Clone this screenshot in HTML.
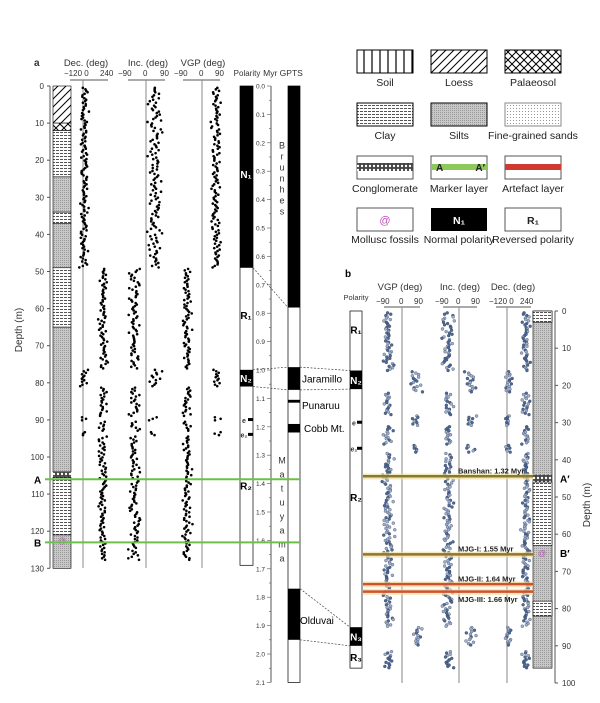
<!DOCTYPE html>
<html><head><meta charset="utf-8">
<style>
html,body{margin:0;padding:0;background:#fff;}
svg{display:block;font-family:"Liberation Sans",sans-serif;}
</style></head><body>
<svg id="s" width="600" height="703" viewBox="0 0 600 703" xmlns="http://www.w3.org/2000/svg">
<defs>
<pattern id="soil" width="8" height="10" patternUnits="userSpaceOnUse"><rect width="8" height="10" fill="#fff"/><line x1="4" y1="0" x2="4" y2="10" stroke="#000" stroke-width="1.2"/></pattern>
<pattern id="loess" width="8" height="8" patternUnits="userSpaceOnUse"><rect width="8" height="8" fill="#fff"/><path d="M0,8 L8,0 M-2,2 L2,-2 M6,10 L10,6" stroke="#000" stroke-width="1"/></pattern>
<pattern id="pal" width="8" height="8" patternUnits="userSpaceOnUse"><rect width="8" height="8" fill="#fff"/><path d="M0,8 L8,0 M0,0 L8,8" stroke="#000" stroke-width="1"/></pattern>
<pattern id="clay" width="4" height="3" patternUnits="userSpaceOnUse"><rect width="4" height="3" fill="#fff"/><rect width="3" height="1" fill="#555"/></pattern>
<pattern id="silt" width="2" height="2" patternUnits="userSpaceOnUse"><rect width="2" height="2" fill="#c8c8c8"/><rect width="1" height="1" fill="#999"/></pattern>
<pattern id="sand" width="3" height="3" patternUnits="userSpaceOnUse"><rect width="3" height="3" fill="#fff"/><rect width="1" height="1" fill="#999"/></pattern>
<pattern id="cong" width="4" height="4" patternUnits="userSpaceOnUse"><rect width="4" height="4" fill="#444"/><circle cx="2" cy="2" r="1.2" fill="#fff"/></pattern>
</defs>

<g font-size="10.5" fill="#222" text-anchor="middle">
<rect x="357" y="50" width="56" height="23" fill="url(#soil)" stroke="#000"/><text x="385" y="86">Soil</text>
<rect x="431" y="50" width="56" height="23" fill="url(#loess)" stroke="#000"/><text x="459" y="86">Loess</text>
<rect x="505" y="50" width="56" height="23" fill="url(#pal)" stroke="#000"/><text x="533" y="86">Palaeosol</text>
<rect x="357" y="103" width="56" height="23" fill="url(#clay)" stroke="#000"/><text x="385" y="139">Clay</text>
<rect x="431" y="103" width="56" height="23" fill="url(#silt)" stroke="#000"/><text x="459" y="139">Silts</text>
<rect x="505" y="103" width="56" height="23" fill="url(#sand)" stroke="#888"/><text x="533" y="139">Fine-grained sands</text>
<rect x="357" y="156" width="56" height="23" fill="#fff" stroke="#555"/><rect x="357" y="163" width="56" height="8" fill="url(#cong)"/><text x="385" y="192">Conglomerate</text>
<rect x="431" y="156" width="56" height="23" fill="#fff" stroke="#555"/><rect x="431" y="164" width="56" height="6" fill="#8cc85a"/><text x="436" y="171" font-weight="bold" text-anchor="start" font-size="10">A</text><text x="485" y="171" font-weight="bold" text-anchor="end" font-size="10">A′</text><text x="459" y="192">Marker layer</text>
<rect x="505" y="156" width="56" height="23" fill="#fff" stroke="#555"/><rect x="505" y="164" width="56" height="6" fill="#d03a30"/><text x="533" y="192">Artefact layer</text>
<rect x="357" y="208" width="56" height="23" fill="#fff" stroke="#555"/><text x="385" y="224" fill="#c050c0" font-size="11">@</text><text x="385" y="243">Mollusc fossils</text>
<rect x="431" y="208" width="56" height="23" fill="#000"/><text x="459" y="224" fill="#fff" font-weight="bold">N₁</text><text x="459" y="243">Normal polarity</text>
<rect x="505" y="208" width="56" height="23" fill="#fff" stroke="#555"/><text x="533" y="224" font-weight="bold">R₁</text><text x="533" y="243">Reversed polarity</text>
</g>

<g font-size="9" fill="#333">
<text x="34" y="66" font-weight="bold" font-size="10">a</text>
<text x="86" y="66" text-anchor="middle" font-size="9.5">Dec. (deg)</text>
<text x="148" y="66" text-anchor="middle" font-size="9.5">Inc. (deg)</text>
<text x="203" y="66" text-anchor="middle" font-size="9.5">VGP (deg)</text>
<text x="247" y="76" text-anchor="middle" font-size="8">Polarity</text>
<text x="283" y="76" text-anchor="middle" font-size="8.5">Myr GPTS</text>
<text x="64" y="76" font-size="8">−120 0</text><text x="100" y="76" font-size="8">240</text>
<text x="118" y="76" font-size="8">−90</text><text x="143" y="76" font-size="8">0</text><text x="160" y="76" font-size="8">90</text>
<text x="174" y="76" font-size="8">−90</text><text x="199" y="76" font-size="8">0</text><text x="215" y="76" font-size="8">90</text>
<text x="22" y="330" font-size="10" transform="rotate(-90 22 330)" text-anchor="middle">Depth (m)</text>
</g>
</svg>
<script>
var S=document.getElementById('s'),NS='http://www.w3.org/2000/svg';
function el(t,a,p){var e=document.createElementNS(NS,t);for(var k in a)e.setAttribute(k,a[k]);(p||S).appendChild(e);return e;}
function tx(x,y,s,a){var e=el('text',Object.assign({x:x,y:y,'font-size':8,fill:'#333'},a||{}));e.textContent=s;return e;}
var seed=7;function r(){seed=(seed*16807)%2147483647;return seed/2147483647;}
function g(){return (r()+r()+r()-1.5);}
var y0=86,k=3.71;function ya(d){return y0+d*k;}
el('line',{x1:50,y1:ya(0),x2:50,y2:ya(130),stroke:'#555'});
for(var d=0;d<=130;d+=10){el('line',{x1:47,y1:ya(d),x2:50,y2:ya(d),stroke:'#555'});tx(44,ya(d)+3,d,{'text-anchor':'end'});}
function L(a,b,f){el('rect',{x:53,y:ya(a),width:18,height:ya(b)-ya(a),fill:f,stroke:'#000','stroke-width':.6});}
L(0,10,'url(#loess)');L(10,12,'url(#pal)');L(12,24.5,'url(#clay)');L(24.5,34,'url(#silt)');L(34,37,'url(#clay)');L(37,49,'url(#silt)');L(49,65,'url(#clay)');L(65,104,'url(#silt)');
el('rect',{x:53,y:ya(104),width:18,height:ya(105.5)-ya(104),fill:'url(#cong)'});
L(105.5,121,'url(#clay)');L(121,130,'url(#silt)');
tx(62,ya(122.5)+3,'@',{fill:'#c050c0','text-anchor':'middle'});
[[70,108],[128,165],[183,220]].forEach(function(a){el('line',{x1:a[0],y1:80,x2:a[1],y2:80,stroke:'#555'});});
[83,146,202].forEach(function(x){el('line',{x1:x,y1:80,x2:x,y2:568,stroke:'#888'});});
function pol(d){return (d<49||(d>=76.5&&d<81)||(d>89&&d<90.5)||(d>93&&d<94.5))?1:0;}
for(var d=0.5;d<128;d+=0.4){var p=pol(d),y=ya(d);
 el('circle',{cx:(p?84:103)+g()*4,cy:y,r:1.3,fill:'#000'});
 el('circle',{cx:(p?155:134)+g()*6,cy:y,r:1.3,fill:'#000'});
 el('circle',{cx:(p?216:187)+g()*4,cy:y,r:1.3,fill:'#000'});}
el('rect',{x:240,y:ya(0),width:13,height:ya(130)-ya(0)-3,fill:'#fff',stroke:'#000','stroke-width':.7});
el('rect',{x:240,y:ya(0),width:13,height:ya(49)-ya(0),fill:'#000'});
el('rect',{x:240,y:ya(76.5),width:13,height:ya(81)-ya(76.5),fill:'#000'});
el('rect',{x:248,y:ya(89.5),width:5,height:3,fill:'#000'});el('rect',{x:248,y:ya(93.5),width:5,height:3,fill:'#000'});
tx(246,ya(24)+3,'N₁',{fill:'#fff','font-weight':'bold','font-size':10,'text-anchor':'middle'});
tx(246,ya(62)+3,'R₁',{fill:'#000','font-weight':'bold','font-size':10,'text-anchor':'middle'});
tx(246,ya(79)+3,'N₂',{fill:'#fff','font-weight':'bold','font-size':10,'text-anchor':'middle'});
tx(244,ya(90)+3,'e',{'font-weight':'bold','font-size':7,'text-anchor':'middle'});tx(244,ya(94)+3,'e₂',{'font-weight':'bold','font-size':7,'text-anchor':'middle'});
tx(246,ya(108)+3,'R₂',{fill:'#000','font-weight':'bold','font-size':10,'text-anchor':'middle'});
var m0=86,mk=284;function ym(t){return m0+t*mk;}
el('line',{x1:271,y1:ym(0),x2:271,y2:ym(2.1),stroke:'#555'});
for(var t=0;t<=2.1001;t+=0.05){var mj=Math.abs(t*10-Math.round(t*10))<.01;el('line',{x1:mj?267:269,y1:ym(t),x2:271,y2:ym(t),stroke:'#555','stroke-width':.6});if(mj)tx(265,ym(t)+2.5,t.toFixed(1),{'text-anchor':'end','font-size':6.5});}
el('rect',{x:288,y:ym(0),width:12,height:ym(2.1)-ym(0),fill:'#fff',stroke:'#000','stroke-width':.7});
[[0,.78],[.99,1.07],[1.105,1.115],[1.19,1.22],[1.77,1.95]].forEach(function(b){el('rect',{x:288,y:ym(b[0]),width:12,height:ym(b[1])-ym(b[0]),fill:'#000'});});
'Brunhes'.split('').forEach(function(c,i){tx(282,ym(0.22)+i*11,c,{'text-anchor':'middle','font-size':9});});
'Matuyama'.split('').forEach(function(c,i){tx(282,ym(1.33)+i*14,c,{'text-anchor':'middle','font-size':9});});
[[ya(49),ym(.78)],[ya(76.5),ym(.99)],[ya(81),ym(1.07)]].forEach(function(c){el('line',{x1:253,y1:c[0],x2:288,y2:c[1],stroke:'#444','stroke-dasharray':'2,1.5','stroke-width':.7});});
el('line',{x1:45,y1:ya(106),x2:300,y2:ya(106),stroke:'#6cc04a','stroke-width':2});
el('line',{x1:45,y1:ya(123),x2:300,y2:ya(123),stroke:'#6cc04a','stroke-width':2});
tx(34,ya(106)+4,'A',{'font-weight':'bold','font-size':10,fill:'#000'});tx(34,ya(123)+4,'B',{'font-weight':'bold','font-size':10,fill:'#000'});
var b0=311,bk=3.72;function yb(d){return b0+d*bk;}
tx(345,277,'b',{'font-weight':'bold','font-size':10,fill:'#000'});
tx(356,300,'Polarity',{'text-anchor':'middle','font-size':7.5});
tx(400,290,'VGP (deg)',{'text-anchor':'middle','font-size':9.5});tx(460,290,'Inc. (deg)',{'text-anchor':'middle','font-size':9.5});tx(513,290,'Dec. (deg)',{'text-anchor':'middle','font-size':9.5});
tx(376,304,'−90',{'font-size':8});tx(399,304,'0',{'font-size':8});tx(414,304,'90',{'font-size':8});
tx(435,304,'−90',{'font-size':8});tx(456,304,'0',{'font-size':8});tx(471,304,'90',{'font-size':8});
tx(489,304,'−120 0',{'font-size':8});tx(520,304,'240',{'font-size':8});
[[384,420],[443,477],[496,531]].forEach(function(a){el('line',{x1:a[0],y1:307,x2:a[1],y2:307,stroke:'#555'});});
[402,459,507].forEach(function(x){el('line',{x1:x,y1:307,x2:x,y2:683,stroke:'#999','stroke-width':1.2});});
el('rect',{x:350,y:yb(0),width:12,height:yb(96)-yb(0),fill:'#fff',stroke:'#000','stroke-width':.7});
el('rect',{x:350,y:yb(85),width:12,height:yb(90)-yb(85),fill:'#000'});
el('rect',{x:350,y:yb(16),width:12,height:yb(21)-yb(16),fill:'#000'});
el('rect',{x:357,y:yb(29.5),width:5,height:3,fill:'#000'});el('rect',{x:357,y:yb(36.5),width:5,height:3,fill:'#000'});
tx(356,yb(5)+4,'R₁',{'font-weight':'bold','font-size':10,'text-anchor':'middle',fill:'#000'});
tx(356,yb(18.5)+4,'N₂',{'font-weight':'bold','font-size':10,'text-anchor':'middle',fill:'#fff'});
tx(354,yb(30)+3,'e',{'font-weight':'bold','font-size':7,'text-anchor':'middle'});tx(354,yb(37)+3,'e₂',{'font-weight':'bold','font-size':7,'text-anchor':'middle'});
tx(356,yb(50)+4,'R₂',{'font-weight':'bold','font-size':10,'text-anchor':'middle',fill:'#000'});
tx(356,yb(87.5)+4,'N₃',{'font-weight':'bold','font-size':10,'text-anchor':'middle',fill:'#fff'});
tx(356,yb(93)+4,'R₃',{'font-weight':'bold','font-size':10,'text-anchor':'middle',fill:'#000'});
[[ym(.99),yb(16)],[ym(1.07),yb(21)],[ym(1.77),yb(85)],[ym(1.95),yb(90)]].forEach(function(c){el('line',{x1:300,y1:c[0],x2:350,y2:c[1],stroke:'#444','stroke-dasharray':'2,1.5','stroke-width':.7});});
tx(302,ym(1.03)+4,'Jaramillo',{'font-size':10,fill:'#000'});tx(302,ym(1.11)+8,'Punaruu',{'font-size':10,fill:'#000'});
tx(304,ym(1.205)+4,'Cobb Mt.',{'font-size':10,fill:'#000'});tx(300,ym(1.88)+4,'Olduvai',{'font-size':10,fill:'#000'});
function polb(d){return ((d>=16&&d<22)||(d>28&&d<31)||(d>36&&d<38)||(d>=85&&d<90))?1:0;}
for(var d=0.5;d<96;d+=0.36){if(d>90&&d<91.5)continue;var p=polb(d),y=yb(d);
 var c=r()<.5?'#4a6a9a':'#9ab0d0';
 el('circle',{cx:(p?416:388)+g()*5,cy:y,r:1.5,fill:c,stroke:'#334','stroke-width':.3});
 el('circle',{cx:(p?470:448)+g()*5,cy:y,r:1.5,fill:c,stroke:'#334','stroke-width':.3});
 el('circle',{cx:(p?508:526)+g()*4,cy:y,r:1.5,fill:c,stroke:'#334','stroke-width':.3});}
el('rect',{x:533,y:yb(0),width:19,height:yb(96)-yb(0),fill:'url(#silt)',stroke:'#000','stroke-width':.6});
el('rect',{x:533,y:yb(0),width:19,height:yb(3)-yb(0),fill:'url(#clay)',stroke:'#000','stroke-width':.6});
el('rect',{x:533,y:yb(44),width:19,height:yb(46)-yb(44),fill:'url(#cong)'});
el('rect',{x:533,y:yb(46),width:19,height:yb(63)-yb(46),fill:'url(#clay)',stroke:'#000','stroke-width':.6});
el('rect',{x:533,y:yb(78),width:19,height:yb(82)-yb(78),fill:'url(#clay)',stroke:'#000','stroke-width':.6});
tx(542,yb(65)+3,'@',{fill:'#c050c0','text-anchor':'middle'});
el('line',{x1:555,y1:yb(0),x2:555,y2:yb(100),stroke:'#555'});
for(var d=0;d<=100;d+=10){el('line',{x1:555,y1:yb(d),x2:558,y2:yb(d),stroke:'#555'});tx(562,yb(d)+3,d);}
tx(560,yb(45)+4,'A′',{'font-weight':'bold','font-size':10,fill:'#000'});tx(560,yb(65)+4,'B′',{'font-weight':'bold','font-size':10,fill:'#000'});
tx(590,505,'Depth (m)',{'font-size':10,'text-anchor':'middle',transform:'rotate(-90 590 505)'});
[[44.5,'Banshan: 1.32 Myr'],[65.5,'MJG-I: 1.55 Myr'],[73.5,'MJG-II: 1.64 Myr'],[75.5,'MJG-III: 1.66 Myr']].forEach(function(a,i){var y=yb(a[0]);
 el('rect',{x:363,y:y-3,width:170,height:6,fill:'#f0e0a0',opacity:.7});
 el('line',{x1:363,y1:y,x2:533,y2:y,stroke:i<2?'#8a7a30':'#d05030','stroke-width':2});
 el('line',{x1:363,y1:y-1,x2:533,y2:y-1,stroke:'#d05030','stroke-width':1});
 tx(458,i==3?y+10:y-3,a[1],{'font-size':7.5,'font-weight':'bold',fill:'#222'});});
</script>
</body></html>
